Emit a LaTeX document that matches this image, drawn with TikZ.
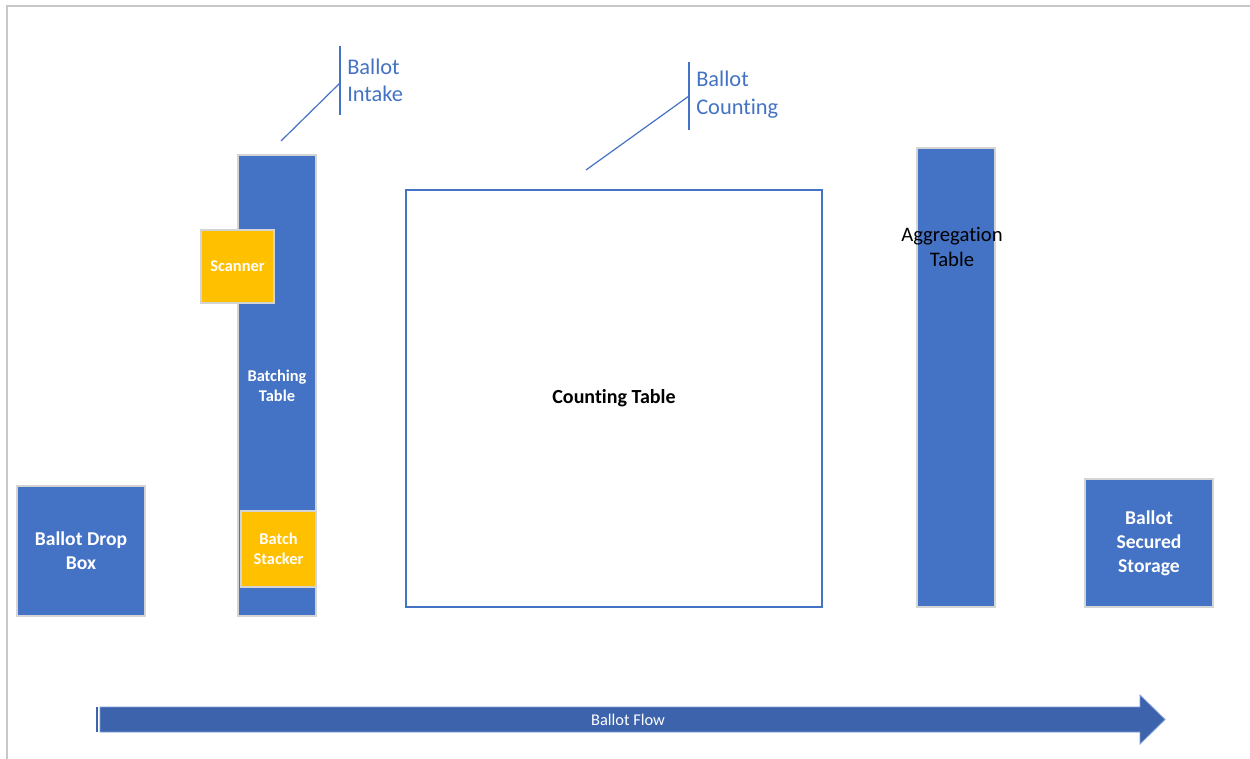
\documentclass[tikz,border=0pt]{standalone}
\usepackage{fontspec}
\setmainfont{Carlito}[Ligatures=NoCommon]
\definecolor{accblue}{HTML}{4472C4}
\definecolor{flowblue}{HTML}{3C63AC}
\definecolor{accorange}{HTML}{FFC000}
\definecolor{edgegray}{HTML}{D4D4D4}
\definecolor{framegray}{HTML}{C8C8C8}
\tikzset{
  bluebox/.style={draw=edgegray, line width=0.9pt, fill=accblue, inner sep=0pt, align=center, text=white, font=\bfseries\fontsize{14.7}{18}\selectfont},
  orangebox/.style={draw=edgegray, line width=0.9pt, fill=accorange, inner sep=0pt, align=center, text=white, font=\bfseries\fontsize{12.3}{15}\selectfont},
  calloutline/.style={draw=accblue, line width=0.9pt},
  callouttext/.style={text=accblue, align=left, inner sep=0pt, font=\fontsize{16.8}{20.5}\selectfont}
}
\begin{document}
\begin{tikzpicture}[x=0.75pt,y=-0.75pt]
\useasboundingbox (0,0) rectangle (1250,759);
% frame
\coordinate (ftl) at (7,6);
\coordinate (ftr) at (1250,6);
\coordinate (fbl) at (7,759);
\draw[framegray, line width=0.9pt] (ftr) -- (ftl) -- (fbl);

% Ballot Drop Box
\node[bluebox, minimum width=96pt, minimum height=97.5pt] (drop) at (81,551) {Ballot Drop\\Box};

% Batching table
\node[bluebox, minimum width=58.5pt, minimum height=345.75pt, font=\bfseries\fontsize{12.3}{15}\selectfont] (batch) at (277,385.5) {Batching\\Table};
\node[orangebox, minimum width=54.75pt, minimum height=54.75pt] (scan) at (237.5,266.5) {Scanner};
\node[orangebox, minimum width=56.25pt, minimum height=57pt] (stack) at (278.5,549) {Batch\\Stacker};

% Counting table
\node[draw=accblue, line width=2.2pt, fill=white, minimum width=312pt, minimum height=312.75pt, font=\bfseries\fontsize{15}{18}\selectfont] (count) at (614,398.5) {Counting Table};

% Aggregation table
\node[bluebox, minimum width=58.5pt, minimum height=344.25pt] (agg) at (956,377.5) {};
\node[align=center, inner sep=0pt, font=\fontsize{15.5}{18.75}\selectfont] (aggtext) at (952,247) {Aggregation\\Table};

% Storage
\node[bluebox, minimum width=96pt, minimum height=96pt] (store) at (1149,543) {Ballot\\Secured\\Storage};

% Callout: Ballot Intake
\coordinate (i1) at (340,46);
\coordinate (i2) at (340,115);
\coordinate (i3) at (340,83);
\coordinate (i4) at (281,141);
\draw[calloutline] (i1) -- (i2);
\draw[calloutline] (i3) -- (i4);
\node[callouttext, anchor=west] (intake) at (347,80) {Ballot\\Intake};

% Callout: Ballot Counting
\coordinate (c1) at (689,62);
\coordinate (c2) at (689,130);
\coordinate (c3) at (689,96);
\coordinate (c4) at (586,170);
\draw[calloutline] (c1) -- (c2);
\draw[calloutline] (c3) -- (c4);
\node[callouttext, anchor=west, font=\fontsize{16.8}{21}\selectfont] (counting) at (696,95) {Ballot\\Counting};

% Ballot flow arrow
\fill[flowblue] (95.5,707) rectangle (98,732);
\draw[fill=flowblue, draw=accblue!70, line width=0.6pt] (100,707) -- (1140,707) -- (1140,695) -- (1165,719.5) -- (1140,744) -- (1140,732) -- (100,732) -- cycle;
\node[text=white, font=\fontsize{12.3}{14}\selectfont, inner sep=0pt] (flow) at (628,719.5) {Ballot Flow};
\end{tikzpicture}
\end{document}
